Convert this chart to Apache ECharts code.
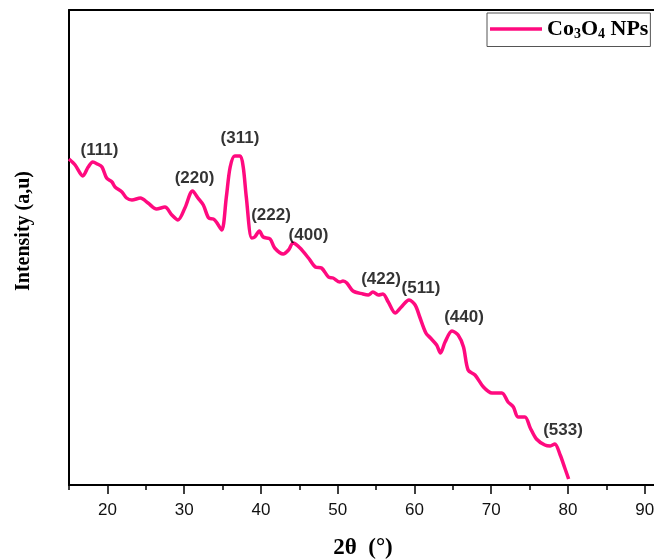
<!DOCTYPE html>
<html>
<head>
<meta charset="utf-8">
<style>
  html, body { margin: 0; padding: 0; background: #fff; }
  #main { width: 654px; height: 560px; }
</style>
<script src="https://cdn.jsdelivr.net/npm/echarts@6/dist/echarts.min.js"></script>
</head>
<body>
<div id="main"></div>
<script>
// XRD pattern (arbitrary intensity units)
var twoTheta = [15.0, 15.8, 16.8, 17.5, 18.1, 18.7, 19.3, 19.9, 20.6, 21.0, 21.9, 22.5, 23.2, 24.3, 25.3, 26.4, 27.5, 28.4, 29.2, 30.1,
  31.1, 31.8, 32.5, 33.2, 33.8, 34.2, 34.9, 35.5, 36.0, 36.6, 37.3, 37.7, 38.1, 38.8, 39.2, 39.8, 40.3, 41.2, 41.8, 42.9,
  43.6, 44.2, 45.1, 46.2, 47.1, 47.9, 48.8, 49.4, 50.3, 50.7, 51.2, 52.0, 53.3, 54.0, 54.6, 55.3, 55.9, 56.6, 57.5, 58.3,
  59.3, 60.1, 60.7, 61.5, 62.1, 62.9, 63.4, 64.0, 64.9, 65.7, 66.4, 67.0, 67.9, 69.0, 70.1, 71.4, 72.2, 72.9, 73.5, 74.4,
  75.1, 75.9, 77.0, 77.7, 78.3, 79.0, 79.6, 80.1];
var intensity = [326, 320, 309, 318, 323, 321, 318, 307, 303, 298, 293, 287, 285, 287, 282, 276, 278, 270, 265, 277,
  294, 287, 280, 267, 266, 263, 255, 288, 318, 329, 329, 318, 288, 247, 248, 254, 248, 246, 237, 231,
  235, 242, 237, 227, 218, 217, 208, 207, 203, 204, 202, 194, 191, 190, 193, 190, 191, 183, 172, 178,
  185, 180, 168, 152, 147, 140, 132, 143, 154, 150, 138, 115, 110, 98, 92, 92, 83, 78, 68, 68,
  57, 46, 40, 39, 41, 30, 17, 6];

// peak (hkl) labels
var peakNames = ['(111)', '(220)', '(311)', '(222)', '(400)', '(422)', '(511)', '(440)', '(533)'];
var peakTheta = [18.97, 31.35, 37.28, 41.32, 46.2, 55.65, 60.86, 66.47, 79.37];
var peakLabelY = [335, 307, 347, 270, 250, 206, 197, 168, 55];

var majorTicks = [20, 30, 40, 50, 60, 70, 80, 90];
var minorTicks = [15, 25, 35, 45, 55, 65, 75, 85, 95];

var peakData = [];
for (var i = 0; i < peakNames.length; i++) {
  peakData.push([peakTheta[i], peakLabelY[i], peakNames[i]]);
}
var lineData = twoTheta.map(function (t, i) { return [t, intensity[i]]; });

var xMax = 95;

var myChart = echarts.init(document.getElementById('main'));
myChart.setOption({
  animation: false,
  backgroundColor: '#fff',
  grid: {
    left: 69,
    top: 10,
    width: 614,
    height: 475,
    outerBoundsMode: 'none'
  },
  legend: {
    data: ['Co3O4 NPs'],
    left: 487,
    top: 13,
    backgroundColor: '#fff',
    borderColor: '#555',
    borderWidth: 1,
    borderRadius: 0,
    padding: [5, 2, 5, 3],
    icon: 'rect',
    itemWidth: 52,
    itemHeight: 3.5,
    itemGap: 5,
    formatter: function () { return 'Co{s|3}O{s|4} NPs'; },
    textStyle: {
      fontFamily: 'Liberation Serif',
      fontWeight: 'bold',
      fontSize: 22,
      color: '#000',
      rich: {
        s: { fontFamily: 'Liberation Serif', fontWeight: 'bold', fontSize: 14, verticalAlign: 'bottom', padding: [11, 0, 0, 0], color: '#000' }
      }
    }
  },
  xAxis: [{
    type: 'value',
    min: 15,
    max: xMax,
    interval: 5,
    splitLine: { show: false },
    axisLine: { onZero: false, lineStyle: { color: '#000', width: 2 } },
    axisTick: { show: true, customValues: majorTicks, length: 9, lineStyle: { color: '#000', width: 1.5 } },
    axisLabel: {
      customValues: majorTicks,
      margin: 17,
      fontFamily: 'Liberation Sans',
      fontSize: 17,
      color: '#111'
    }
  }, {
    type: 'value',
    position: 'bottom',
    min: 15,
    max: xMax,
    interval: 5,
    splitLine: { show: false },
    axisLine: { show: false, onZero: false },
    axisTick: { show: true, customValues: minorTicks, length: 5, lineStyle: { color: '#000', width: 1.5 } },
    axisLabel: { show: false }
  }, {
    // top frame line
    type: 'value',
    position: 'top',
    min: 15,
    max: xMax,
    splitLine: { show: false },
    axisLine: { show: true, onZero: false, lineStyle: { color: '#000', width: 2 } },
    axisTick: { show: false },
    axisLabel: { show: false }
  }],
  yAxis: {
    type: 'value',
    min: 0,
    max: 475,
    splitLine: { show: false },
    axisLine: { show: true, onZero: false, lineStyle: { color: '#000', width: 2 } },
    axisTick: { show: false },
    axisLabel: { show: false }
  },
  graphic: [{
    type: 'text',
    x: 24,
    y: 231,
    rotation: Math.PI / 2,
    style: {
      text: 'Intensity (a,u)',
      font: 'bold 20px "Liberation Serif"',
      fill: '#000',
      align: 'center',
      verticalAlign: 'middle'
    }
  }, {
    type: 'text',
    x: 363,
    y: 548,
    style: {
      text: '2\u03b8  (\u00b0)',
      font: 'bold 23px "Liberation Serif"',
      fill: '#000',
      align: 'center',
      verticalAlign: 'middle'
    }
  }],
  series: [{
    name: 'Co3O4 NPs',
    type: 'line',
    data: lineData,
    symbol: 'none',
    smooth: 0.3,
    lineStyle: { color: '#ff0a7f', width: 3.5 },
    itemStyle: { color: '#ff0a7f' },
    z: 3
  }, {
    name: 'peaks',
    type: 'scatter',
    data: peakData,
    symbolSize: 0,
    silent: true,
    label: {
      show: true,
      position: 'inside',
      formatter: function (p) { return p.data[2]; },
      fontFamily: 'Liberation Sans',
      fontWeight: 'bold',
      fontSize: 17,
      color: '#000'
    },
    z: 4
  }]
});
</script>
</body>
</html>
